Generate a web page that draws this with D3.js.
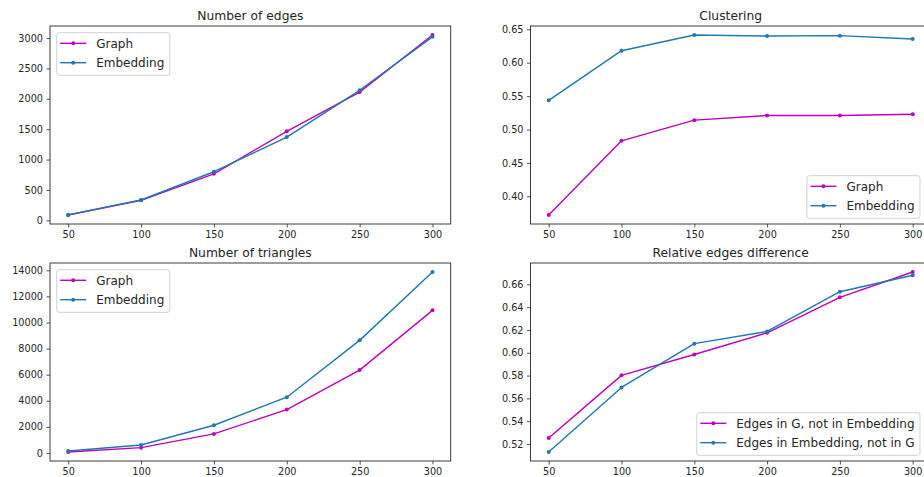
<!DOCTYPE html>
<html>
<head>
<meta charset="utf-8">
<script src="https://cdn.jsdelivr.net/npm/d3@7/dist/d3.min.js"></script>
<style>
  html, body { margin: 0; padding: 0; background: #fff; }
  svg { display: block; font-family: "DejaVu Sans", sans-serif; }
</style>
</head>
<body>
<svg id="chart" width="924" height="477"></svg>
<script>
// ---- data ----
const nodes = [50, 100, 150, 200, 250, 300];

const edgesGraph = [88, 330, 765, 1465, 2110, 3050];
const edgesEmbedding = [90, 335, 800, 1370, 2140, 3020];

const clusteringGraph = [0.372, 0.483, 0.514, 0.521, 0.521, 0.5228];
const clusteringEmbedding = [0.5437, 0.618, 0.6415, 0.640, 0.6405, 0.6355];

const trianglesGraph = [75, 407, 1460, 3325, 6350, 10930];
const trianglesEmbedding = [150, 614, 2125, 4275, 8630, 13870];

const relGNotEmb = [0.5253, 0.5802, 0.5985, 0.6175, 0.6486, 0.6708];
const relEmbNotG = [0.513, 0.5696, 0.608, 0.6187, 0.6535, 0.668];

const xTicks = [50, 100, 150, 200, 250, 300];
const edgesTicks = [0, 500, 1000, 1500, 2000, 2500, 3000];
const clusteringTicks = [0.40, 0.45, 0.50, 0.55, 0.60, 0.65];
const trianglesTicks = [0, 2000, 4000, 6000, 8000, 10000, 12000, 14000];
const relTicks = [0.52, 0.54, 0.56, 0.58, 0.60, 0.62, 0.64, 0.66];

const titles = ["Number of edges", "Clustering", "Number of triangles", "Relative edges difference"];
const legendGraph = "Graph", legendEmb = "Embedding";
const legendRel = ["Edges in G, not in Embedding", "Edges in Embedding, not in G"];

// ---- style ----
const MAGENTA = "#bf00bf", BLUE = "#1f77b4", TEXT = "#262626";
const svg = d3.select("#chart");

const panels = [
  { left: 50, top: 26, w: 400.7, h: 198, title: titles[0], series: [edgesGraph, edgesEmbedding],
    names: [legendGraph, legendEmb], ticks: edgesTicks, fmt: d3.format("d"), legend: "tl" },
  { left: 530.5, top: 26, w: 400.4, h: 198, title: titles[1], series: [clusteringGraph, clusteringEmbedding],
    names: [legendGraph, legendEmb], ticks: clusteringTicks, fmt: d3.format(".2f"), legend: "br" },
  { left: 50, top: 263, w: 400.7, h: 198, title: titles[2], series: [trianglesGraph, trianglesEmbedding],
    names: [legendGraph, legendEmb], ticks: trianglesTicks, fmt: d3.format("d"), legend: "tl" },
  { left: 530.5, top: 263, w: 400.4, h: 198, title: titles[3], series: [relGNotEmb, relEmbNotG],
    names: legendRel, ticks: relTicks, fmt: d3.format(".2f"), legend: "br" }
];

const colors = [MAGENTA, BLUE];

panels.forEach(p => {
  const g = svg.append("g").attr("transform", `translate(${p.left},${p.top})`);
  const xr = 300 - 50, xm = xr * 0.05;
  const x = d3.scaleLinear().domain([50 - xm, 300 + xm]).range([0, p.w]);
  const all = p.series.flat();
  const mn = d3.min(all), mx = d3.max(all), m = (mx - mn) * 0.05;
  const y = d3.scaleLinear().domain([mn - m, mx + m]).range([p.h, 0]);

  // axes
  const xa = g.append("g").attr("transform", `translate(0,${p.h})`)
    .call(d3.axisBottom(x).tickValues(xTicks).tickSize(3.5).tickPadding(3.5).tickFormat(d3.format("d")));
  const ya = g.append("g")
    .call(d3.axisLeft(y).tickValues(p.ticks).tickSize(3.5).tickPadding(3.5).tickFormat(p.fmt));
  [xa, ya].forEach(a => {
    a.select(".domain").remove();
    a.selectAll(".tick line").attr("stroke", TEXT).attr("stroke-width", 0.8);
    a.selectAll(".tick text").attr("fill", TEXT).style("font-size", "9.7px")
      .style("font-family", "DejaVu Sans, sans-serif");
  });

  // lines
  const line = d3.line().x((d, i) => x(nodes[i])).y(d => y(d));
  p.series.forEach((s, k) => {
    g.append("path").datum(s).attr("fill", "none").attr("stroke", colors[k])
      .attr("stroke-width", 1.4).attr("stroke-linejoin", "round").attr("d", line);
    g.selectAll(null).data(s).enter().append("circle")
      .attr("cx", (d, i) => x(nodes[i])).attr("cy", d => y(d)).attr("r", 2)
      .attr("fill", colors[k]);
  });

  // frame
  g.append("rect").attr("x", 0).attr("y", 0).attr("width", p.w).attr("height", p.h)
    .attr("fill", "none").attr("stroke", TEXT).attr("stroke-width", 0.9);

  // title
  g.append("text").attr("x", p.w / 2).attr("y", -6.5)
    .attr("text-anchor", "middle").attr("fill", TEXT).style("font-size", "12.3px").text(p.title);

  // legend
  const lg = g.append("g");
  const box = lg.append("rect").attr("rx", 2.5).attr("ry", 2.5)
    .attr("fill", "#fff").attr("fill-opacity", 0.8).attr("stroke", "#cccccc").attr("stroke-width", 0.9);
  const texts = [];
  p.names.forEach((n, k) => {
    const cy = 10.6 + k * 19.4;
    lg.append("line").attr("x1", 3.5).attr("x2", 29.5).attr("y1", cy).attr("y2", cy)
      .attr("stroke", colors[k]).attr("stroke-width", 1.4);
    lg.append("circle").attr("cx", 16.5).attr("cy", cy).attr("r", 2).attr("fill", colors[k]);
    const t = lg.append("text").attr("x", 39.5).attr("y", cy).attr("dy", "0.36em")
      .attr("fill", TEXT).style("font-size", "12px").text(n);
    texts.push(t);
  });
  const tw = d3.max(texts, t => t.node().getComputedTextLength());
  const bw = 39.5 + tw + 5.5, bh = 42.6;
  box.attr("x", 0).attr("y", 0).attr("width", bw).attr("height", bh);
  if (p.legend === "tl") {
    lg.attr("transform", `translate(6.7,6.7)`);
  } else {
    const right = 920 - p.left;
    lg.attr("transform", `translate(${right - bw},${p.h - 5.7 - bh})`);
  }
});
</script>
</body>
</html>
